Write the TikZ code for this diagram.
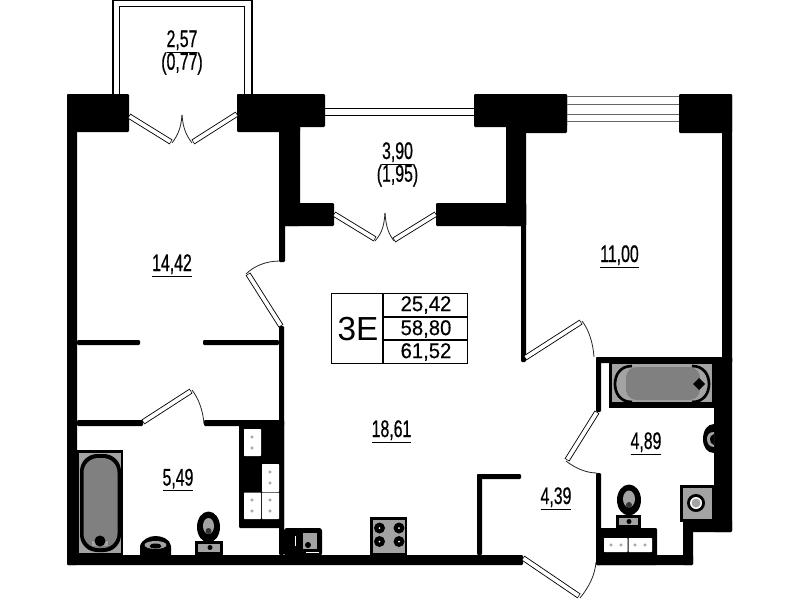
\documentclass[tikz,border=0pt]{standalone}
\usepackage{fontspec}
\setmainfont{Liberation Sans}
\newfontfamily\narrowf[FakeStretch=0.66,FakeBold=0.6]{Liberation Sans}
\newfontfamily\tablef[FakeStretch=0.95,FakeBold=0.3]{Liberation Sans}
\definecolor{tubgray}{gray}{0.50}
\definecolor{framegray}{gray}{0.64}
\tikzset{
  x=0.75pt,y=-0.75pt,
  wall/.style={fill=black,draw=none,rounded corners=0.8pt},
  thin line/.style={draw=black,line width=0.75pt},
  hair/.style={draw=black,line width=0.5pt},
  swing/.style={draw=black!85,line width=0.6pt},
  room/.style={inner sep=0pt,align=center,font=\narrowf\fontsize{18}{18}\selectfont},
  tablenum/.style={inner sep=0pt,font=\tablef\fontsize{16}{16}\selectfont},
  cab/.style={fill=white,draw=none,rounded corners=0.5pt},
  knob/.style={draw=black!45,line width=0.35pt,fill=white}
}
\newcommand{\doorleaf}[2]{%
  \draw[black,line width=4.1pt] #1 -- #2;
  \draw[white,line width=2.8pt,shorten <=0.5pt,shorten >=0.5pt] #1 -- #2;
}
\begin{document}
\begin{tikzpicture}
\useasboundingbox (0,0) rectangle (799,600);
\fill[white] (0,0) rectangle (799,600);

% balcony
\draw[hair,line width=0.8pt] (113,94) -- (113,0.5) -- (252,0.5) -- (252,94);
\draw[hair,line width=0.8pt] (119.5,94) -- (119.5,6.5) -- (244.5,6.5) -- (244.5,94);

% walls
\fill[wall] (67,94) rectangle (129,132);
\fill[wall] (67,94) rectangle (77,565);
\fill[wall] (237,94) rectangle (325,127);
\fill[wall] (237,94) rectangle (300,132);
\fill[wall] (279,94) rectangle (300,226);
\fill[wall] (279,203) rectangle (334,226);
\fill[wall] (279,203) rectangle (285,262);
\fill[wall] (279,326) rectangle (284,555);
\fill[wall] (474,94) rectangle (567,127);
\fill[wall] (506,94) rectangle (567,133);
\fill[wall] (506,94) rectangle (526,226);
\fill[wall] (436,203) rectangle (526,226);
\fill[wall] (521,203) rectangle (526,362);
\fill[wall] (679,94) rectangle (732,133);
\fill[wall] (722,94) rectangle (732,363);
\fill[wall] (596,357) rectangle (732,363);
\fill[wall] (714,357) rectangle (732,532);
\fill[wall] (684,520) rectangle (732,532);
\fill[wall] (683,520) rectangle (693,565);
\fill[wall] (596,555) rectangle (693,565);
\fill[wall] (596,357) rectangle (601,412);
\fill[wall] (596,473) rectangle (601,565);
\fill[wall] (596,528) rectangle (657,565);
\fill[wall] (67,555) rectangle (523,565);
\fill[wall] (477,474) rectangle (482,555);
\fill[wall] (477,474) rectangle (521,479);
\fill[wall] (77,340) rectangle (140,345);
\fill[wall] (203,340) rectangle (279,345);
\fill[wall] (77,420) rectangle (143,426);
\fill[wall] (204,420) rectangle (284,426);
\fill[wall] (239,420) rectangle (284,528);

% windows
\draw[thin line] (325,108) -- (474,108);
\draw[thin line] (325,115) -- (474,115);
\foreach \yy in {96,104,114,121}{
  \draw[black!60,line width=0.7pt] (567,\yy) -- (679,\yy);
}

% balcony door
\doorleaf{(129,116)}{(171,142)}
\doorleaf{(237,114)}{(193,142)}
\draw[swing] (172,143) .. controls (178,135) and (181,128) .. (182,115);
\draw[swing] (192,143) .. controls (186,135) and (183,128) .. (182,115);

% loggia door
\doorleaf{(334,214)}{(375,239)}
\doorleaf{(436,214)}{(394,240)}
\draw[swing] (375,241) .. controls (381,234) and (384,228) .. (385,213);
\draw[swing] (394,241) .. controls (389,234) and (386,228) .. (385,213);

% room doors
\doorleaf{(281,326)}{(248,274)}
\draw[swing] (246,274) .. controls (254,266) and (266,261) .. (280,261);
\doorleaf{(525,358)}{(581,322)}
\draw[swing] (582,321) .. controls (589,330) and (593,343) .. (594,357);
\doorleaf{(143,422)}{(191,391)}
\draw[swing] (192,390) .. controls (199,399) and (203,411) .. (204,424);
\doorleaf{(597,412)}{(567,460)}
\draw[swing] (566,461) .. controls (575,468) and (586,473) .. (597,473);
\doorleaf{(523,558)}{(579,596)}
\draw[swing] (580,598) .. controls (589,587) and (595,575) .. (596,562);

% built-in cabinets
\fill[cab] (244,429) rectangle (261,456);
\fill[cab] (262,464) rectangle (279,492);
\fill[cab] (244,492.5) rectangle (261,519);
\fill[cab] (262,492.5) rectangle (279,519);
\foreach \cx/\cy in {252/437,252/448,270/472,270/483,252/500,252/511,270/500,270/511}{
  \draw[knob] (\cx,\cy) circle (1.3);
}
% utility cabinet in bathroom
\fill[cab] (604,538) rectangle (627.5,552);
\fill[cab] (628.5,538) rectangle (652,552);
\foreach \cx in {611,621,635,645}{\draw[knob] (\cx,545) circle (1.2);}

% left bath
\fill[black] (77,450) rectangle (123,555);
\fill[framegray] (79,453) rectangle (121,553);
\fill[black,rounded corners=13pt] (80,454) rectangle (121,552);
\fill[tubgray,rounded corners=11pt] (83.5,458) rectangle (117.5,548);
\fill[framegray] (92,541) rectangle (108,546);
\fill[black] (100,541) circle (5.5);

% left sink
\fill[black] (140,555) -- (140,546) .. controls (142,539) and (150,536) .. (155.5,536) .. controls (162,536) and (170,539) .. (171,546) -- (171,555) -- cycle;
\fill[framegray] (155.5,545) ellipse (11 and 4);
\fill[black] (155.5,546) ellipse (6 and 2.5);

% left toilet
\fill[black] (195,541) rectangle (223,555);
\fill[framegray] (198,544) rectangle (220,552);
\fill[black] (210,547.5) circle (2.5);
\fill[black] (208.5,527) ellipse (11.5 and 15.5);
\fill[framegray] (208.5,526) ellipse (5.5 and 8);
\fill[black!80] (208.5,531) ellipse (3 and 3);

% kitchen sink unit
\fill[black,rounded corners=2pt] (284,528) rectangle (322,556);
\fill[framegray] (303,533) rectangle (317,549);
\fill[black] (308,545) circle (3);
\fill[white] (295,536) rectangle (296.2,546);
\draw[white,line width=0.6pt] (306,552) -- (319,552);

% stove
\fill[black] (370,517) rectangle (407,556);
\fill[framegray] (372.5,519.5) rectangle (404.5,553);
\foreach \cx/\cy in {379.5/528,399/528,379.5/541.5,399/541.5}{
  \fill[black] (\cx,\cy) circle (5.5);
  \fill[white] (\cx,\cy) circle (1);
}

% right bath
\fill[black] (609,363) rectangle (714,408);
\fill[framegray] (612,364) rectangle (712,402);
\fill[tubgray,rounded corners=8pt] (626,367) rectangle (700,400);
\draw[black,line width=2pt] (632,366) .. controls (620,366) and (615,375) .. (615,384) .. controls (615,393) and (620,402) .. (632,402);
\draw[black,line width=2pt] (692,366) .. controls (704,366) and (709,375) .. (709,384) .. controls (709,393) and (704,402) .. (692,402);
\fill[black] (699,378) -- (705,384) -- (699,390) -- (693,384) -- cycle;

% right sink
\fill[black] (714,424) .. controls (707,424) and (703,431) .. (703,439) .. controls (703,447) and (707,453) .. (714,453) -- cycle;
\fill[framegray] (714,432) .. controls (709,432) and (707,435) .. (707,439) .. controls (707,443) and (709,447) .. (714,447) -- cycle;
\fill[black] (714,434) .. controls (711,435) and (710,437) .. (710,439) .. controls (710,442) and (711,444) .. (714,445) -- cycle;

% right toilet
\fill[black] (616,515) rectangle (641,528);
\fill[framegray] (619,517.5) rectangle (638,525);
\fill[black] (629,521.5) circle (2.5);
\fill[black] (629,500) ellipse (12 and 15.5);
\fill[framegray] (629,499) ellipse (6 and 8.5);
\fill[black!80] (629,505) ellipse (3 and 3);

% washing machine
\fill[black] (680,485) rectangle (714,522);
\fill[framegray] (683,488) rectangle (712,519);
\fill[black] (696,503) circle (9);
\fill[white] (696,503) circle (6);
\fill[framegray] (696,503) circle (4.5);

% info table
\draw[thin line] (331,293) rectangle (467,363);
\draw[thin line,line width=1pt] (383,293) -- (383,363);
\draw[thin line,line width=1pt] (383,317) -- (467,317);
\draw[thin line,line width=1pt] (383,340) -- (467,340);
\node[inner sep=0pt,font=\fontsize{25}{25}\selectfont] (tlabel) at (358,329) {3E};
\node[tablenum] (t1) at (426,305) {25,42};
\node[tablenum] (t2) at (426,329) {58,80};
\node[tablenum] (t3) at (426,352) {61,52};

% room labels
\node[room] (r1) at (182,41.5) {\underline{2,57}};
\node[room] (r1b) at (182,63.5) {(0,77)};
\node[room] (r2) at (397.5,153.5) {\underline{3,90}};
\node[room] (r2b) at (397.5,175.5) {(1,95)};
\node[room] (r3) at (172,265.5) {\underline{14,42}};
\node[room] (r4) at (619.5,256.5) {\underline{11,00}};
\node[room] (r5) at (391.5,431.5) {\underline{18,61}};
\node[room] (r6) at (178,480) {\underline{5,49}};
\node[room] (r7) at (646,443.5) {\underline{4,89}};
\node[room] (r8) at (556,498.5) {\underline{4,39}};
\end{tikzpicture}
\end{document}
